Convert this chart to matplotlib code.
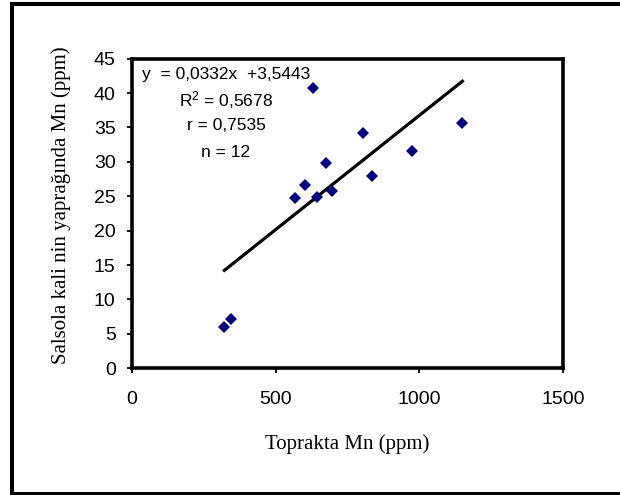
import numpy as np
import matplotlib
matplotlib.use("Agg")
from matplotlib import pyplot as plt
from matplotlib.lines import Line2D

# Mn in soil vs Mn in Salsola kali leaves
soil_mn = [322, 344, 566, 601, 643, 629, 677, 698, 803, 837, 976, 1150]
leaf_mn = [6.0, 7.1, 24.7, 26.7, 24.9, 40.8, 29.9, 25.8, 34.2, 27.9, 31.6, 35.7]

slope = 0.0332
intercept = 3.5443
stats_lines = ["y  = 0,0332x  +3,5443", "R$^2$ = 0,5678", "r = 0,7535", "n = 12"]

x_ticks = [0, 500, 1000, 1500]
y_ticks = list(range(0, 50, 5))

plt.rcParams['font.family'] = ['Liberation Sans', 'DejaVu Sans']
plt.rcParams['mathtext.fontset'] = 'custom'
plt.rcParams['mathtext.rm'] = 'Liberation Sans'
plt.rcParams['mathtext.it'] = 'Liberation Sans'

fig = plt.figure(figsize=(6.2, 4.95), dpi=100)
ax = fig.add_axes([0.2126, 0.2560, 0.6955, 0.6255])

ax.plot(soil_mn, leaf_mn, linestyle='none', marker='D', ms=6.6, mew=0, color='#000080', zorder=3)

xs = np.array([min(soil_mn), max(soil_mn)])
ax.plot(xs, slope * xs + intercept, color='k', lw=2.3, zorder=2)

ax.set_xlim(0, 1500)
ax.set_ylim(0, 45)
ax.set_xticks(x_ticks)
ax.set_yticks(y_ticks)

for s in ax.spines.values():
    s.set_linewidth(2.6)

ax.tick_params(axis='both', direction='out', length=3.6, width=1.3, labelsize=14)
ax.tick_params(axis='x', pad=12.5)
ax.tick_params(axis='y', pad=8)

serif = ['Liberation Serif', 'DejaVu Serif']
ax.set_xlabel("Toprakta Mn (ppm)", family=serif, fontsize=15)
ax.set_ylabel("Salsola kali nin yaprağında Mn (ppm)", family=serif, fontsize=15)
ax.xaxis.set_label_coords(0.5, -0.212)
ax.yaxis.set_label_coords(-0.142, 0.526)

for txt, yy in zip(stats_lines, [0.950, 0.8666, 0.7826, 0.6975]):
    ax.text(0.2185, yy, txt, transform=ax.transAxes, ha='center', va='center', fontsize=12.5)

# outer frame (right side runs off the picture)
lw = 2.9
fig.add_artist(Line2D([12 / 620, 12 / 620], [1 - 493.5 / 495, 1 - 3.7 / 495], color='k', lw=lw))
fig.add_artist(Line2D([12 / 620, 1.01], [1 - 3.7 / 495, 1 - 3.7 / 495], color='k', lw=lw))
fig.add_artist(Line2D([12 / 620, 1.01], [1 - 493.5 / 495, 1 - 493.5 / 495], color='k', lw=lw))

plt.savefig("out.png", dpi=100)
